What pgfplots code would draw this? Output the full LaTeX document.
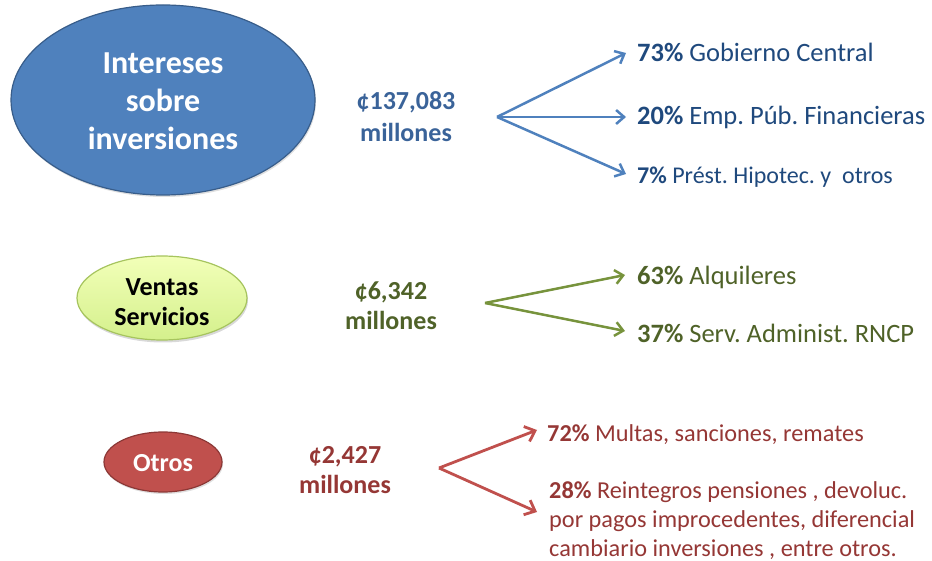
\documentclass[border=0pt]{standalone}
\usepackage{pgfplots}
\pgfplotsset{compat=1.18}
\usepackage{fontspec}
\setmainfont{Carlito}
\usetikzlibrary{arrows.meta,shadows}
\definecolor{bluefill}{HTML}{4F81BD}
\definecolor{blueedge}{HTML}{385D8A}
\definecolor{bluetxt}{HTML}{3A6399}
\definecolor{bluedark}{HTML}{1F497D}
\definecolor{greenA}{HTML}{F2FFB8}
\definecolor{greenB}{HTML}{D4F08C}
\definecolor{greenedge}{HTML}{A6C45E}
\definecolor{greenarrow}{HTML}{77933C}
\definecolor{greentxt}{HTML}{4F6228}
\definecolor{redfill}{HTML}{C0504D}
\definecolor{rededge}{HTML}{8C3836}
\definecolor{redtxt}{HTML}{953735}
\newcommand{\fs}[2]{\fontsize{#1}{#2}\selectfont}
\frenchspacing
\begin{document}
\begin{tikzpicture}
\begin{axis}[hide axis, scale only axis, width=932pt, height=561pt,
  xmin=0, xmax=932, ymin=0, ymax=561, y dir=reverse, clip=false]
\path[draw=none] (rel axis cs:0,0) rectangle (rel axis cs:1,1);
% arrows (blue)
\addplot[bluefill, line width=2.5pt, -{Straight Barb[length=8pt,width=14pt]}] coordinates {(497,117) (626,53)};
\addplot[bluefill, line width=2.5pt, -{Straight Barb[length=8pt,width=14pt]}] coordinates {(497,117) (626,117)};
\addplot[bluefill, line width=2.5pt, -{Straight Barb[length=8pt,width=14pt]}] coordinates {(497,117) (626,174)};
% arrows (green)
\addplot[greenarrow, line width=2.5pt, -{Straight Barb[length=8pt,width=14pt]}] coordinates {(485,303) (625,275)};
\addplot[greenarrow, line width=2.5pt, -{Straight Barb[length=8pt,width=14pt]}] coordinates {(485,303) (625,331)};
% arrows (red)
\addplot[redfill, line width=2.8pt, -{Straight Barb[length=9pt,width=16pt]}] coordinates {(439,468) (537,430)};
\addplot[redfill, line width=2.8pt, -{Straight Barb[length=9pt,width=16pt]}] coordinates {(439,468) (537,512)};
% ellipses
\draw[fill=bluefill, draw=blueedge, line width=1.2pt, drop shadow={opacity=0.25,shadow xshift=1pt,shadow yshift=-2pt}] (axis cs:163,100) ellipse [x radius=152pt, y radius=95pt];
\draw[top color=greenA, bottom color=greenB, draw=greenedge, line width=1.2pt, drop shadow={opacity=0.3,shadow xshift=1pt,shadow yshift=-2.5pt}] (axis cs:162,298) ellipse [x radius=85pt, y radius=42pt];
\draw[fill=redfill, draw=rededge, line width=1.2pt, drop shadow={opacity=0.25,shadow xshift=1pt,shadow yshift=-2pt}] (axis cs:163,462) ellipse [x radius=59pt, y radius=30pt];
% ellipse texts
\node[white, align=center, font=\fs{32}{38}\bfseries] at (axis cs:163,101) {Intereses\\sobre\\inversiones};
\node[black, align=center, font=\fs{26}{30}\bfseries] at (axis cs:162,302) {Ventas\\Servicios};
\node[white, align=center, font=\fs{26}{30}\bfseries] at (axis cs:163,463) {Otros};
% amounts
\node[bluetxt, align=center, font=\fs{26}{32}\bfseries] at (axis cs:406,117) {¢137,083\\millones};
\node[greentxt, align=center, font=\fs{26}{30}\bfseries] at (axis cs:391,306) {¢6,342\\millones};
\node[redtxt, align=center, font=\fs{26}{30}\bfseries] at (axis cs:345,470) {¢2,427\\millones};
% right texts
\node[bluedark, anchor=west, inner sep=0pt, font=\fs{26.5}{30}] at (axis cs:637,52) {\textbf{73\%} Gobierno Central};
\node[bluedark, anchor=west, inner sep=0pt, font=\fs{26.5}{30}] at (axis cs:637,117) {\textbf{20\%} Emp. Púb. Financieras};
\node[bluedark, anchor=west, inner sep=0pt, font=\fs{24}{30}] at (axis cs:637,177) {\textbf{7\%} Prést. Hipotec. y \ otros};
\node[greentxt, anchor=west, inner sep=0pt, font=\fs{26.5}{30}] at (axis cs:637,277) {\textbf{63\%} Alquileres};
\node[greentxt, anchor=west, inner sep=0pt, font=\fs{26.5}{30}] at (axis cs:637,333) {\textbf{37\%} Serv. Administ. RNCP};
\node[redtxt, anchor=west, inner sep=0pt, font=\fs{24.3}{29}] at (axis cs:547,435) {\textbf{72\%} Multas, sanciones, remates};
\node[redtxt, anchor=north west, inner sep=0pt, align=left, font=\fs{24.3}{29}] at (axis cs:549,481) {\textbf{28\%} Reintegros pensiones , devoluc.\\por pagos improcedentes, diferencial\\cambiario inversiones , entre otros.};
\end{axis}
\end{tikzpicture}
\end{document}
